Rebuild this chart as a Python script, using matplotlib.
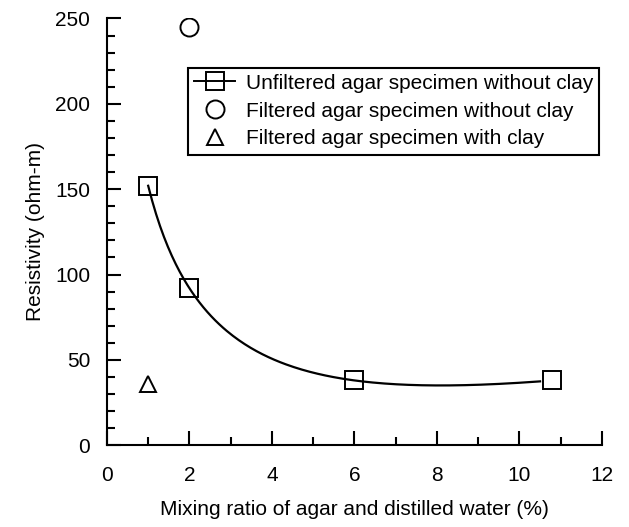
import numpy as np
import matplotlib
matplotlib.use('Agg')
import matplotlib.pyplot as plt
from matplotlib.ticker import MultipleLocator

plt.rcParams['font.family'] = ['Liberation Sans', 'DejaVu Sans']

# data
unf_x = [1, 2, 6, 10.8]
unf_y = [152, 92, 38, 38]
filt_x = [2]
filt_y = [245]
clay_x = [1]
clay_y = [36]

fig = plt.figure(figsize=(6.29, 5.27), dpi=100)
ax = fig.add_axes([0.170, 0.155, 0.787, 0.810])

# smooth trend curve: cubic in log(x) through the unfiltered points
lx = np.log(unf_x)
coef = np.polyfit(lx, unf_y, 3)
xs = np.linspace(unf_x[0], 10.5, 200)
ax.plot(xs, np.polyval(coef, np.log(xs)), color='black', lw=1.6)

ax.plot(unf_x, unf_y, ls='none', marker='s', ms=13, mfc='none', mec='black', mew=1.4)
# legend proxies
h1, = ax.plot([], [], color='black', lw=1.4, marker='s', ms=13, mfc='none', mec='black', mew=1.4,
              label='Unfiltered agar specimen without clay')
h2, = ax.plot(filt_x, filt_y, ls='none', marker='o', ms=13, mfc='none', mec='black', mew=1.4,
              label='Filtered agar specimen without clay')
h3, = ax.plot(clay_x, clay_y, ls='none', marker='^', ms=12, mfc='none', mec='black', mew=1.4,
              label='Filtered agar specimen with clay')

ax.set_xlim(0, 12)
ax.set_ylim(0, 250)
ax.xaxis.set_major_locator(MultipleLocator(2))
ax.xaxis.set_minor_locator(MultipleLocator(1))
ax.yaxis.set_major_locator(MultipleLocator(50))
ax.yaxis.set_minor_locator(MultipleLocator(10))
ax.tick_params(which='both', direction='in', width=1.5, labelsize=15, top=False, right=False)
ax.tick_params(which='major', length=10)
ax.tick_params(axis='x', which='major', pad=15)
ax.tick_params(axis='y', which='major', pad=12)
ax.tick_params(which='minor', length=6)
ax.spines['top'].set_visible(False)
ax.spines['right'].set_visible(False)
ax.spines['left'].set_linewidth(1.5)
ax.spines['bottom'].set_linewidth(1.5)

ax.set_xlabel('Mixing ratio of agar and distilled water (%)', fontsize=15, labelpad=11)
ax.set_ylabel('Resistivity (ohm-m)', fontsize=15, labelpad=7)

leg = ax.legend(handles=[h1, h2, h3], loc='upper right', bbox_to_anchor=(0.995, 0.885),
                fontsize=15, fancybox=False, edgecolor='black', framealpha=1,
                handlelength=2.0, handletextpad=0.5, borderpad=0.3, labelspacing=0.42,
                borderaxespad=0)
leg.get_frame().set_linewidth(1.5)

plt.savefig('out.png', dpi=100)
plt.close()
